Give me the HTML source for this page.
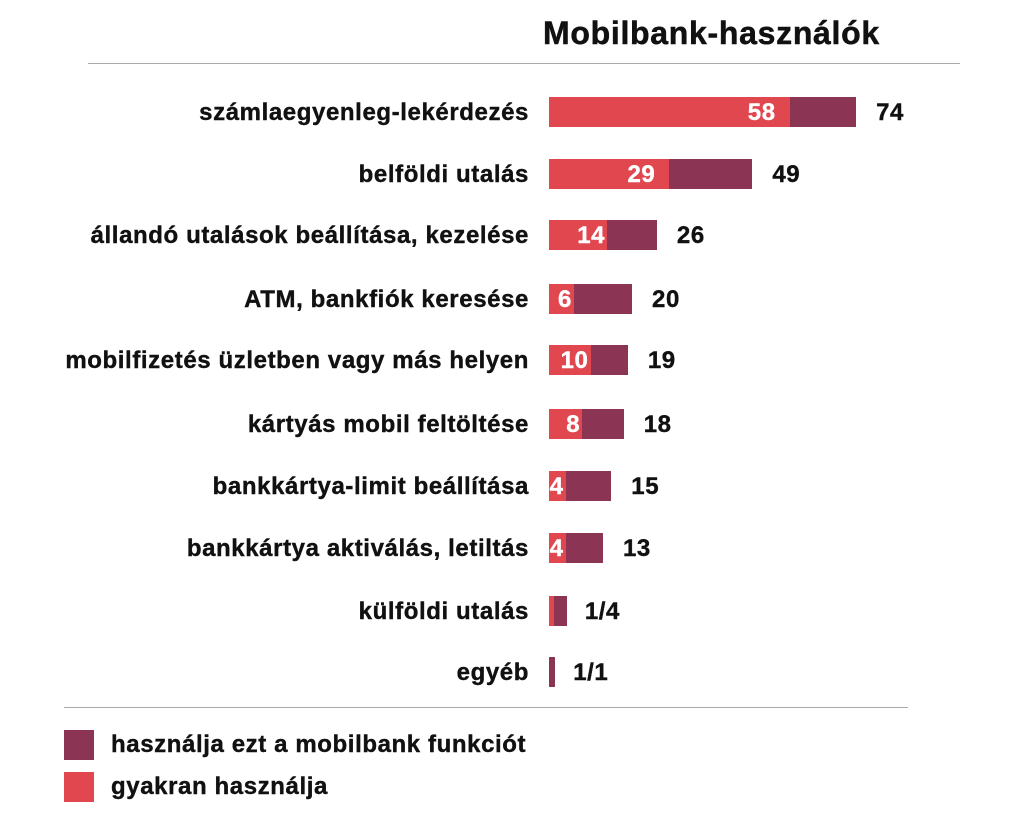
<!DOCTYPE html>
<html><head><meta charset="utf-8"><style>
body{margin:0;width:1024px;height:825px;background:#fff;font-family:"Liberation Sans",sans-serif;font-weight:bold;color:#111;position:relative;overflow:hidden}
.a{position:absolute;white-space:nowrap}
.t{font-size:24px;letter-spacing:0.6px;-webkit-text-stroke:0.4px}
.l{right:495px;text-align:right}
.r{position:absolute;height:30px;background:#e0474f}
.d{position:absolute;height:30px;background:#8c3453}
.in{color:#fff;text-align:right}
</style></head><body>
<div class="a" style="left:543px;top:15px;font-size:32px;letter-spacing:0.7px;-webkit-text-stroke:0.5px">Mobilbank-használók</div>
<div class="a" style="left:88px;top:63px;width:872px;height:1px;background:#aaa"></div>
<div class="a" style="left:64px;top:707px;width:844px;height:1px;background:#aaa"></div>
<div id="rows"></div>
<div class="a" style="left:64px;top:730px;width:30px;height:30px;background:#8c3453"></div>
<div class="a" style="left:64px;top:772px;width:30px;height:30px;background:#e0474f"></div>
<div class="a t" style="left:111px;top:731px">használja ezt a mobilbank funkciót</div>
<div class="a t" style="left:111px;top:773px">gyakran használja</div>
<script>
var data=[["számlaegyenleg-lekérdezés",58,74,97,"74"],["belföldi utalás",29,49,159,"49"],["állandó utalások beállítása, kezelése",14,26,220,"26"],["ATM, bankfiók keresése",6,20,284,"20"],["mobilfizetés üzletben vagy más helyen",10,19,345,"19"],["kártyás mobil feltöltése",8,18,409,"18"],["bankkártya-limit beállítása",4,15,471,"15"],["bankkártya aktiválás, letiltás",4,13,533,"13"],["külföldi utalás",1.2,4.3,596,"1/4"],["egyéb",0,1.5,657,"1/1"]];
var s=4.15,x0=549,h="";
data.forEach(function(d,i){var y=d[3],re=x0+d[1]*s,te=x0+d[2]*s;
h+='<div class="a t l" style="top:'+(y+2)+'px">'+d[0]+'</div>';
h+='<div class="d" style="left:'+x0+'px;top:'+y+'px;width:'+(te-x0)+'px"></div>';
h+='<div class="r" style="left:'+x0+'px;top:'+y+'px;width:'+(re-x0)+'px"></div>';
if(i<8)h+='<div class="a t in" style="right:'+(1024-re+(i<2?14:2))+'px;top:'+(y+2)+'px">'+d[1]+'</div>';
h+='<div class="a t" style="left:'+(te+(i<8?20:18))+'px;top:'+(y+2)+'px">'+d[4]+'</div>';});
document.getElementById("rows").innerHTML=h;
</script>
</body></html>
